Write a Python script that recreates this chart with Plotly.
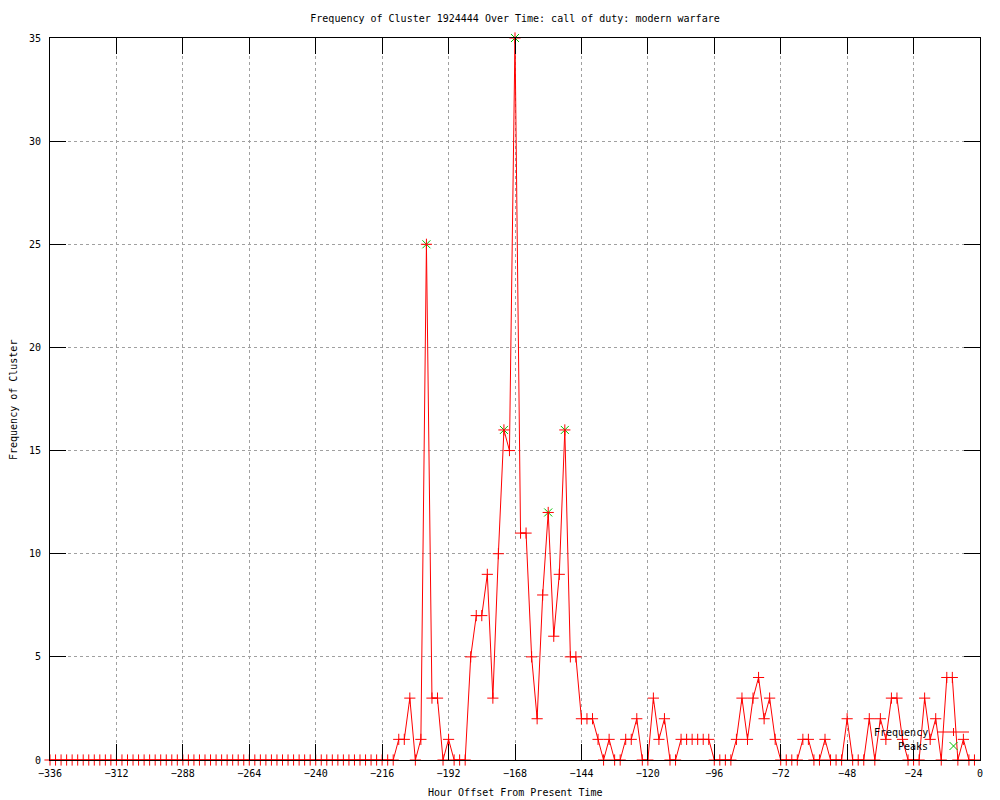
import plotly.graph_objects as go

# Hour offsets (2-hour bins) and cluster frequency
hours = list(range(-336, 0, 2))
frequency = [
    0, 0, 0, 0, 0, 0, 0, 0, 0, 0, 0, 0, 0, 0, 0, 0, 0, 0, 0, 0,
    0, 0, 0, 0, 0, 0, 0, 0, 0, 0, 0, 0, 0, 0, 0, 0, 0, 0, 0, 0,
    0, 0, 0, 0, 0, 0, 0, 0, 0, 0, 0, 0, 0, 0, 0, 0, 0, 0, 0, 0,
    # -216 ...
    0, 0, 0, 1, 1, 3, 0, 1, 25, 3, 3, 0, 1, 0, 0, 0,
    # -184 ...
    5, 7, 7, 9, 3, 10, 16, 15, 35, 11, 11, 5, 2, 8, 12, 6, 9, 16, 5, 5,
    # -144 ...
    2, 2, 2, 1, 0, 1, 0, 0, 1, 1, 2, 0, 0, 3, 1, 2, 0, 0, 1, 1, 1, 1, 1, 1,
    # -96 ...
    0, 0, 0, 0, 1, 3, 1, 3, 4, 2, 3, 1, 0, 0, 0, 0, 1, 1, 0, 0, 1, 0, 0, 0,
    # -48 ...
    2, 0, 0, 0, 2, 0, 2, 1, 3, 3, 1, 0, 0, 0, 3, 1, 2, 0, 4, 4, 0, 1, 0, 0,
]
assert len(frequency) == len(hours)

peak_hours = [-200, -172, -168, -156, -150]
peak_values = [25, 16, 35, 12, 16]

x_ticks = list(range(-336, 1, 24))
y_ticks = [0, 5, 10, 15, 20, 25, 30, 35]

title_text = "Frequency of Cluster 1924444 Over Time: call of duty: modern warfare"
x_title = "Hour Offset From Present Time"
y_title = "Frequency of Cluster"

FONT = "DejaVu Sans Mono"
RED = "#ff0000"
GREEN = "#00c000"

fig = go.Figure()

fig.add_trace(go.Scatter(
    x=peak_hours, y=peak_values, mode="markers", name="Peaks",
    marker=dict(symbol="x-thin", size=8, line=dict(color=GREEN, width=1), color=GREEN),
    cliponaxis=False,
))
fig.add_trace(go.Scatter(
    x=hours, y=frequency, mode="lines+markers", name="Frequency",
    line=dict(color=RED, width=1),
    marker=dict(symbol="cross-thin", size=8, line=dict(color=RED, width=1), color=RED),
    cliponaxis=False,
))

axis_common = dict(
    showline=True, linecolor="black", linewidth=1, mirror="ticks",
    ticks="inside", ticklen=16, tickcolor="black", tickwidth=1,
    showgrid=True, gridcolor="#a0a0a0", griddash="dot", gridwidth=1,
    zeroline=False, tickfont=dict(family=FONT, size=10, color="black"),
)

fig.update_xaxes(range=[-336, 0], tickvals=x_ticks, ticklabelstandoff=4, **axis_common)
fig.update_yaxes(range=[0, 35], tickvals=y_ticks, ticklabelstandoff=6, **axis_common)

# Legend (gnuplot style: text then sample)
lx0, lx1, lxc = (938 - 50) / 930, (969 - 50) / 930, (953.5 - 50) / 930
ly_freq = (760 - 732) / 722
ly_peak = (760 - 746) / 722
tx = (930 - 50) / 930
dx, dy = 4 / 930, 4 / 722

shapes = [
    dict(type="line", xref="paper", yref="paper", x0=lx0, x1=lx1, y0=ly_freq, y1=ly_freq,
         line=dict(color=RED, width=1)),
    dict(type="line", xref="paper", yref="paper", x0=lxc, x1=lxc, y0=ly_freq - dy, y1=ly_freq + dy,
         line=dict(color=RED, width=1)),
    dict(type="line", xref="paper", yref="paper", x0=lxc - dx, x1=lxc + dx, y0=ly_peak - dy, y1=ly_peak + dy,
         line=dict(color=GREEN, width=1)),
    dict(type="line", xref="paper", yref="paper", x0=lxc - dx, x1=lxc + dx, y0=ly_peak + dy, y1=ly_peak - dy,
         line=dict(color=GREEN, width=1)),
]

annotations = [
    dict(text="Frequency", xref="paper", yref="paper", x=tx, y=ly_freq, xanchor="right", yanchor="middle",
         showarrow=False, font=dict(family=FONT, size=10, color="black")),
    dict(text="Peaks", xref="paper", yref="paper", x=tx, y=ly_peak, xanchor="right", yanchor="middle",
         showarrow=False, font=dict(family=FONT, size=10, color="black")),
    dict(text=x_title, xref="paper", yref="paper", x=0.5, y=-33 / 722, xanchor="center", yanchor="middle",
         showarrow=False, font=dict(family=FONT, size=10, color="black")),
    dict(text=y_title, xref="paper", yref="paper", x=(13 - 50) / 930, y=(760 - 400) / 722,
         xanchor="center", yanchor="middle", textangle=-90,
         showarrow=False, font=dict(family=FONT, size=10, color="black")),
]

# The page body adds an 8px offset, so margins are shifted to compensate.
fig.update_layout(
    width=1000, height=800,
    margin=dict(l=42, r=28, t=30, b=48),
    paper_bgcolor="white", plot_bgcolor="white",
    showlegend=False,
    title=dict(text=title_text, x=0.507, xanchor="center", y=1 - 10 / 800, yanchor="middle",
               font=dict(family=FONT, size=10, color="black")),
    shapes=shapes,
    annotations=annotations,
)

fig.write_html("out.html")
